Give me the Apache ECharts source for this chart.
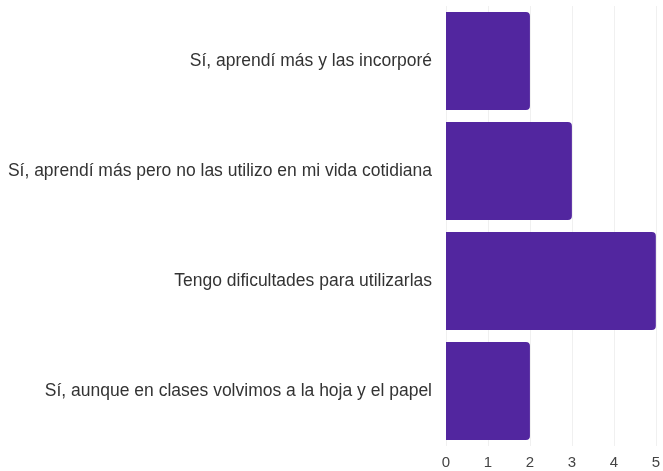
<!DOCTYPE html>
<html>
<head>
<meta charset="utf-8">
<script src="https://cdn.jsdelivr.net/npm/echarts@6/dist/echarts.min.js"></script>
<style>
  html, body { margin: 0; padding: 0; background: #ffffff; }
  #chart { width: 663px; height: 471px; }
</style>
</head>
<body>
<div id="chart"></div>
<script>
// Survey answers (top to bottom) and response counts
const categories = [
  "Sí, aprendí más y las incorporé",
  "Sí, aprendí más pero no las utilizo en mi vida cotidiana",
  "Tengo dificultades para utilizarlas",
  "Sí, aunque en clases volvimos a la hoja y el papel"
];
const counts = [2, 3, 5, 2];
const tickValues = [0, 1, 2, 3, 4, 5];

const chart = echarts.init(document.getElementById("chart"));
chart.setOption({
  animation: false,
  grid: { left: 446, right: 4, top: 6, bottom: 25, containLabel: false },
  xAxis: {
    type: "value",
    min: tickValues[0],
    max: tickValues[tickValues.length - 1],
    interval: 1,
    axisLine: { show: false },
    axisTick: { show: false },
    axisLabel: { color: "#444", fontSize: 15, fontFamily: "Liberation Sans", margin: 9 },
    splitLine: { show: true, lineStyle: { color: "#f0f0f0", width: 1 } }
  },
  yAxis: {
    type: "category",
    data: categories,
    inverse: true,
    axisLine: { show: false },
    axisTick: { show: false },
    axisLabel: { color: "#333", fontSize: 17.5, fontFamily: "Liberation Sans", margin: 14 }
  },
  series: [{
    type: "bar",
    data: counts,
    barCategoryGap: "11%",
    itemStyle: { color: "#52269f", borderRadius: [0, 4, 4, 0] }
  }]
});
</script>
</body>
</html>
